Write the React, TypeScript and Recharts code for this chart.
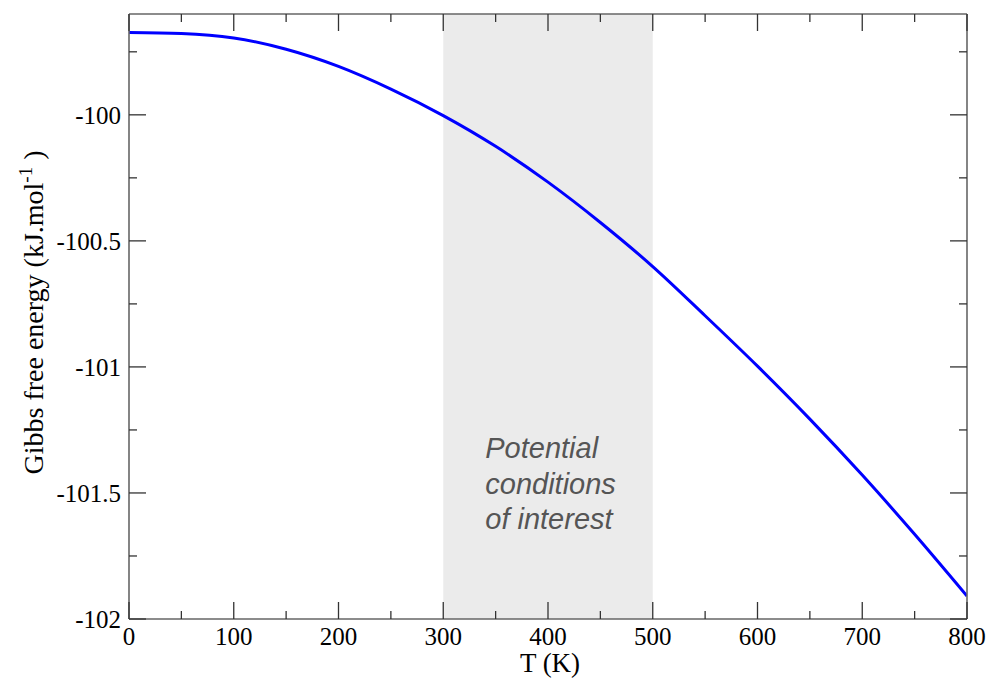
import React from 'react';
import { ComposedChart, Line, XAxis, YAxis, ReferenceArea } from 'recharts';

const temperatures = [0, 50, 100, 150, 200, 250, 300, 350, 400, 450, 500, 550, 600, 650, 700, 750, 800];
const gibbs = [-99.673, -99.677, -99.695, -99.740, -99.808, -99.898, -100.003, -100.125, -100.267, -100.427, -100.602, -100.797, -100.997, -101.207, -101.429, -101.664, -101.909];

const xTicks = [0, 50, 100, 150, 200, 250, 300, 350, 400, 450, 500, 550, 600, 650, 700, 750, 800];
const xMajor = [0, 100, 200, 300, 400, 500, 600, 700, 800];
const yTicks = [-102, -101.75, -101.5, -101.25, -101, -100.75, -100.5, -100.25, -100, -99.75];
const yMajor = [-102, -101.5, -101, -100.5, -100];
const shadeRange = [300, 500];
const annotationLines = ['Potential', 'conditions', 'of interest'];

const data = temperatures.map((t, i) => ({ T: t, G: gibbs[i] }));

const SERIF = '"Liberation Serif", "Times New Roman", serif';
const TICK_COLOR = '#333';
const FRAME = { stroke: '#666', strokeWidth: 1.6 };
const MAJOR = 17;
const MINOR = 8;

const BottomTick = (props: any) => {
  const { x, y, payload } = props;
  const major = xMajor.includes(payload.value);
  return (
    <g>
      <line x1={x} y1={y} x2={x} y2={y - (major ? MAJOR : MINOR)} stroke={TICK_COLOR} strokeWidth={1.3} />
      {major && (
        <text x={x} y={y + 26} textAnchor="middle" fontFamily={SERIF} fontSize={25} fill="#000">
          {payload.value}
        </text>
      )}
    </g>
  );
};

const TopTick = (props: any) => {
  const { x, y, payload } = props;
  const major = xMajor.includes(payload.value);
  return <line x1={x} y1={y} x2={x} y2={y + (major ? MAJOR : MINOR)} stroke={TICK_COLOR} strokeWidth={1.3} />;
};

const LeftTick = (props: any) => {
  const { x, y, payload } = props;
  const major = yMajor.includes(payload.value);
  return (
    <g>
      <line x1={x} y1={y} x2={x + (major ? MAJOR : MINOR)} y2={y} stroke={TICK_COLOR} strokeWidth={1.3} />
      {major && (
        <text x={x - 8} y={y + 9} textAnchor="end" fontFamily={SERIF} fontSize={25} fill="#000">
          {String(payload.value)}
        </text>
      )}
    </g>
  );
};

const RightTick = (props: any) => {
  const { x, y, payload } = props;
  const major = yMajor.includes(payload.value);
  return <line x1={x} y1={y} x2={x - (major ? MAJOR : MINOR)} y2={y} stroke={TICK_COLOR} strokeWidth={1.3} />;
};

const YLabel = (props: any) => {
  const vb = props.viewBox || { x: 10, y: 13, width: 119, height: 606 };
  const cx = vb.x + 33;
  const cy = vb.y + vb.height / 2 - 4;
  return (
    <text
      transform={`translate(${cx},${cy}) rotate(-90)`}
      textAnchor="middle"
      fontFamily={SERIF}
      fontSize={28}
      fill="#000"
    >
      Gibbs free energy (kJ.mol
      <tspan dy={-11} fontSize={19}>-1</tspan>
      <tspan dy={11}> )</tspan>
    </text>
  );
};

const XLabel = (props: any) => {
  const vb = props.viewBox || { x: 129, y: 619, width: 838, height: 60 };
  return (
    <text x={vb.x + vb.width / 2 + 2} y={vb.y + 53} textAnchor="middle" fontFamily={SERIF} fontSize={27} fill="#000">
      T (K)
    </text>
  );
};

const AreaText = (props: any) => {
  const vb = props.viewBox || { x: 444, y: 14, width: 209, height: 605 };
  const offsets = [444, 480, 515];
  return (
    <g>
      {annotationLines.map((s, i) => (
        <text
          key={s}
          x={vb.x + 42}
          y={vb.y + offsets[i]}
          fontFamily='"Liberation Sans", Arial, sans-serif'
          fontStyle="italic"
          fontSize={29}
          fill="#555"
        >
          {s}
        </text>
      ))}
    </g>
  );
};

export default function App() {
  return (
    <div style={{ position: 'absolute', left: 0, top: 0, width: 990, height: 679, background: '#fff' }}>
      <ComposedChart
        width={990}
        height={679}
        data={data}
        margin={{ top: 13, right: 22, bottom: 0, left: 10 }}
      >
        <XAxis
          xAxisId="bottom"
          dataKey="T"
          type="number"
          domain={[0, 800]}
          ticks={xTicks}
          interval={0}
          allowDataOverflow
          tickSize={0}
          tickMargin={0}
          tickLine={false}
          height={60}
          axisLine={FRAME}
          tick={<BottomTick />}
          label={<XLabel />}
        />
        <XAxis
          xAxisId="top"
          orientation="top"
          dataKey="T"
          type="number"
          domain={[0, 800]}
          ticks={xTicks}
          interval={0}
          allowDataOverflow
          tickSize={0}
          tickMargin={0}
          tickLine={false}
          height={1}
          axisLine={FRAME}
          tick={<TopTick />}
        />
        <YAxis
          yAxisId="left"
          type="number"
          domain={[-102, -99.6]}
          ticks={yTicks}
          interval={0}
          allowDataOverflow
          tickSize={0}
          tickMargin={0}
          tickLine={false}
          width={119}
          axisLine={FRAME}
          tick={<LeftTick />}
          label={<YLabel />}
        />
        <YAxis
          yAxisId="right"
          orientation="right"
          type="number"
          domain={[-102, -99.6]}
          ticks={yTicks}
          interval={0}
          allowDataOverflow
          tickSize={0}
          tickMargin={0}
          tickLine={false}
          width={1}
          axisLine={FRAME}
          tick={<RightTick />}
        />
        <ReferenceArea
          xAxisId="bottom"
          yAxisId="left"
          x1={shadeRange[0]}
          x2={shadeRange[1]}
          y1={-102}
          y2={-99.6}
          fill="#ebebeb"
          fillOpacity={1}
          stroke="none"
          ifOverflow="hidden"
          label={<AreaText />}
        />
        <Line
          xAxisId="bottom"
          yAxisId="left"
          type="monotone"
          dataKey="G"
          stroke="#0000ff"
          strokeWidth={3}
          dot={false}
          activeDot={false}
          isAnimationActive={false}
        />
      </ComposedChart>
    </div>
  );
}
